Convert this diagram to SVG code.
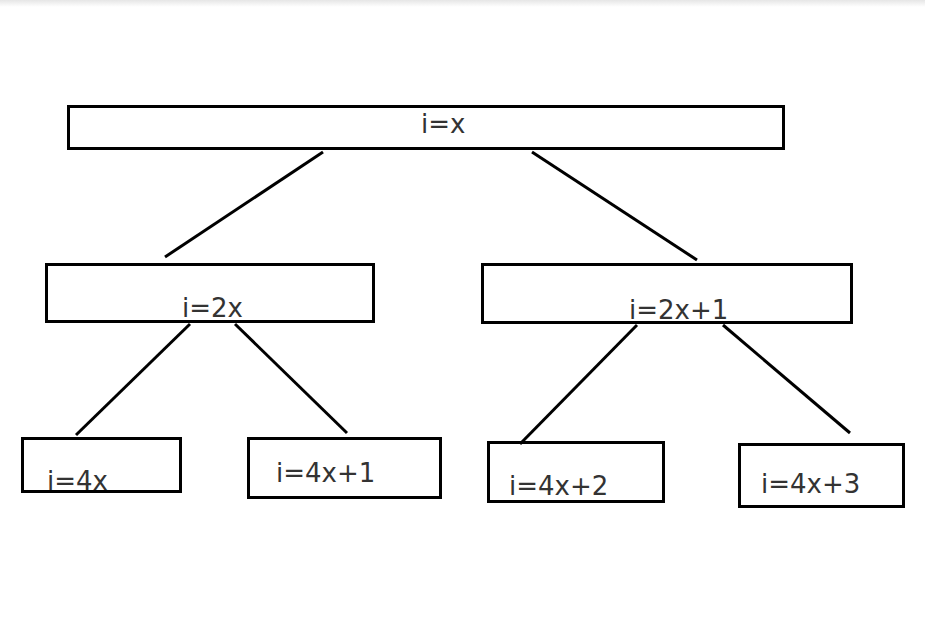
<svg xmlns="http://www.w3.org/2000/svg" width="925" height="617" viewBox="0 0 925 617">
<defs>
<linearGradient id="topfade" x1="0" y1="0" x2="0" y2="1">
<stop offset="0" stop-color="#e6e6e6"/>
<stop offset="1" stop-color="#ffffff"/>
</linearGradient>
</defs>
<style>
.box{fill:none;stroke:#000;stroke-width:3}
.lbl{font-family:"DejaVu Sans",sans-serif;font-size:26px;fill:#333}
.edge{stroke:#000;stroke-width:3;fill:none}
</style>
<rect x="0" y="0" width="925" height="617" fill="#fff"/>
<rect x="0" y="0" width="925" height="7" fill="url(#topfade)"/>
<g id="connectors">
<line class="edge" x1="323" y1="152" x2="165" y2="257"/>
<line class="edge" x1="532" y1="152" x2="697" y2="260"/>
<line class="edge" x1="190" y1="324" x2="76" y2="435"/>
<line class="edge" x1="235" y1="324" x2="347" y2="433"/>
<line class="edge" x1="637" y1="325" x2="520" y2="444"/>
<line class="edge" x1="723" y1="325" x2="850" y2="433"/>
</g>
<g id="n-root">
<text class="lbl" x="421" y="133">i=x</text>
<rect class="box" x="68.5" y="106.5" width="715" height="42"/>
</g>
<g id="n-2x">
<text class="lbl" x="182" y="317">i=2x</text>
<rect class="box" x="46.5" y="264.5" width="327" height="57"/>
</g>
<g id="n-2x1">
<text class="lbl" x="629" y="319">i=2x+1</text>
<rect class="box" x="482.5" y="264.5" width="369" height="58"/>
</g>
<g id="n-4x">
<text class="lbl" x="47" y="490">i=4x</text>
<rect class="box" x="22.5" y="438.5" width="158" height="53"/>
</g>
<g id="n-4x1">
<text class="lbl" x="276" y="482">i=4x+1</text>
<rect class="box" x="248.5" y="438.5" width="192" height="59"/>
</g>
<g id="n-4x2">
<text class="lbl" x="509" y="495">i=4x+2</text>
<rect class="box" x="488.5" y="442.5" width="175" height="59"/>
</g>
<g id="n-4x3">
<text class="lbl" x="761" y="493">i=4x+3</text>
<rect class="box" x="739.5" y="444.5" width="164" height="62"/>
</g>
</svg>
